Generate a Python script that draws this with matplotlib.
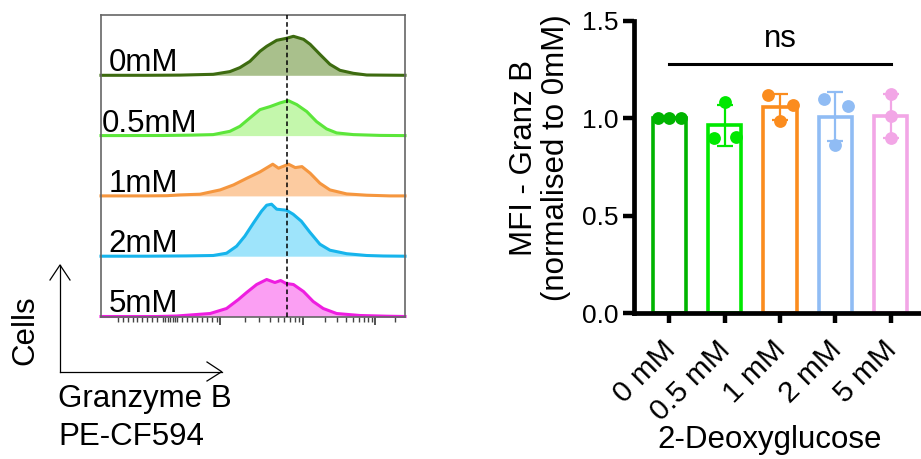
import numpy as np
import matplotlib
matplotlib.use('Agg')
import matplotlib.pyplot as plt
from matplotlib.lines import Line2D
from matplotlib.transforms import ScaledTranslation

plt.rcParams['font.family'] = ['Liberation Sans', 'DejaVu Sans']

# ---------------- Histogram data (channel units 0-1000, counts arbitrary) ----
hist_labels = ['0mM', '0.5mM', '1mM', '2mM', '5mM']
x_0mM = [0, 150, 260, 369, 424, 457, 490, 523, 545, 578, 610, 633, 666, 688, 720, 753, 786, 830, 874, 1000]
y_0mM = [0, 0, 0.2, 1, 3.7, 7.7, 14, 24, 29, 35, 37, 39, 36, 31, 21, 11, 5, 2, 0.3, 0]
x_05mM = [0, 200, 300, 369, 424, 457, 490, 523, 556, 589, 616, 644, 677, 709, 742, 775, 830, 918, 1000]
y_05mM = [0, 0.1, 0.5, 1, 4.3, 9.3, 17.7, 26, 29, 32.7, 35, 31, 24, 14, 6.7, 2.7, 1, 0.2, 0]
x_1mM = [0, 150, 217, 260, 326, 392, 436, 480, 523, 565, 584, 617, 639, 661, 688, 720, 753, 808, 874, 951, 1000]
y_1mM = [0, 0, 0.2, 1, 1.7, 6, 11, 17.7, 24, 31.7, 27.7, 31.7, 28.3, 29.3, 22.7, 12.7, 6, 2, 0.7, 0, 0]
x_2mM = [0, 150, 282, 369, 413, 446, 473, 501, 528, 545, 561, 578, 610, 632, 659, 687, 720, 753, 808, 874, 929, 1000]
y_2mM = [0, 0, 0.3, 0.7, 3, 10, 20, 33, 45, 51, 52, 47, 46, 42, 35, 24, 12, 6, 2.5, 0.7, 0.2, 0]
x_5mM = [0, 184, 249, 359, 413, 452, 479, 512, 545, 572, 591, 609, 633, 666, 698, 731, 775, 852, 940, 1000]
y_5mM = [0, 0, 0.5, 3, 8, 17, 24, 32, 37, 34, 36, 33, 32, 25, 15, 8, 3, 1, 0.3, 0]
median_ref = 613

hist_x = [x_0mM, x_05mM, x_1mM, x_2mM, x_5mM]
hist_y = [y_0mM, y_05mM, y_1mM, y_2mM, y_5mM]
hist_line = ['#3d6b10', '#5ce63a', '#f5963e', '#16b4ec', '#ee1ee0']
hist_fill = ['#a9c08c', '#c4f7ac', '#fccba0', '#9ee4fb', '#fb9ff3']

# ---------------- Bar chart data ------------------------------------------
conc_labels = ['0 mM', '0.5 mM', '1 mM', '2 mM', '5 mM']
rep_0mM = [1.0, 1.0, 1.0]
rep_05mM = [0.90, 1.085, 0.905]
rep_1mM = [1.12, 0.987, 1.07]
rep_2mM = [1.097, 0.863, 1.063]
rep_5mM = [1.124, 1.013, 0.897]
replicates = [rep_0mM, rep_05mM, rep_1mM, rep_2mM, rep_5mM]
bar_colors = ['#00b400', '#00e800', '#fb8c1e', '#90bcf4', '#f2a6e6']
jitter = [[-0.2, 0.0, 0.21], [-0.2, 0.0, 0.21], [-0.22, 0.0, 0.23],
          [-0.2, 0.0, 0.23], [0.0, 0.0, 0.0]]

W, H = 921, 459
fig = plt.figure(figsize=(W / 100, H / 100), dpi=100)


def fx(px):
    return px / W


def fy(py):
    return 1 - py / H


# ---------------- Histogram panel ----------------
lane_h = 60.3
ax1 = fig.add_axes([fx(101), fy(316.5), fx(405) - fx(101), (316.5 - 15) / H])
n = len(hist_labels)
for i in range(n):
    base = (n - 1 - i) * lane_h
    xs = np.array(hist_x[i], float)
    ys = np.array(hist_y[i], float)
    ax1.fill_between(xs, base, base + ys, color=hist_fill[i], lw=0, zorder=1)
    ax1.plot(xs, base + ys, color=hist_line[i], lw=2.2, zorder=2, clip_on=False,
             solid_joinstyle='round')
    ax1.text(0.025 if i != 1 else 0.003, base + 4, hist_labels[i], fontsize=22.5,
             ha='left', va='baseline', transform=ax1.get_yaxis_transform(), zorder=5)
ax1.axvline(median_ref, color='black', lw=1.1, ls=(0, (3, 2)), zorder=4)
ax1.set_xlim(0, 1000)
ax1.set_ylim(0, n * lane_h)
for s in ax1.spines.values():
    s.set_color('#666666')
    s.set_linewidth(1.2)
major = [391, 664, 901]
minor = []
for a, b in [(391, 664), (664, 901)]:
    for m in range(2, 10):
        minor.append(a + (b - a) * np.log10(m))
minor += list(np.arange(56, 200, 16)) + [204, 212, 220, 228, 236, 244, 250] + \
    list(np.arange(265, 385, 16.5)) + [967]
ax1.set_xticks(major)
ax1.set_xticks(minor, minor=True)
ax1.set_xticklabels([])
ax1.set_yticks([])
ax1.tick_params(axis='x', which='major', length=6, width=1.3, color='#444444')
ax1.tick_params(axis='x', which='minor', length=3.5, width=1.0, color='#444444')

# axis arrows
def fline(xs, ys):
    fig.add_artist(Line2D([fx(v) for v in xs], [fy(v) for v in ys], color='black',
                          lw=0.9, transform=fig.transFigure))

fline([60, 60], [371.7, 265])
fline([50, 60, 70], [280, 265, 280])
fline([60, 221.7], [371.7, 371.7])
fline([207, 221.7, 207], [362, 371.7, 381])
fig.text(fx(25.5), fy(330), 'Cells', rotation=90, ha='center', va='center', fontsize=22.5)
fig.text(fx(58), fy(406.7), 'Granzyme B', ha='left', va='baseline', fontsize=22.5)
fig.text(fx(58), fy(445), 'PE-CF594', ha='left', va='baseline', fontsize=22.5)

# ---------------- Bar chart panel ----------------
ax2 = fig.add_axes([fx(634), fy(313.3), 1 - fx(634), (313.3 - 20.7) / H])
xpos = np.arange(len(conc_labels))
means = [np.mean(r) for r in replicates]
sds = [np.std(r, ddof=1) for r in replicates]
ax2.bar(xpos, means, width=0.6, facecolor='white', edgecolor=bar_colors, linewidth=2.6,
        zorder=1)
for i in range(len(xpos)):
    ax2.errorbar(xpos[i], means[i], yerr=sds[i], color=bar_colors[i], capsize=6,
                 capthick=1.6, elinewidth=1.6, zorder=3, fmt='none')
    ax2.scatter(xpos[i] + np.array(jitter[i]), replicates[i], s=85,
                color=bar_colors[i], zorder=4, linewidths=0)
ax2.set_xlim(-0.638, 4.55)
ax2.set_ylim(0, 1.5)
for side in ['top', 'right']:
    ax2.spines[side].set_visible(False)
for side in ['left', 'bottom']:
    ax2.spines[side].set_linewidth(3.4)
    ax2.spines[side].set_zorder(5)
ax2.set_yticks([0, 0.5, 1.0, 1.5])
ax2.set_yticklabels(['0.0', '0.5', '1.0', '1.5'], fontsize=19)
ax2.set_xticks(xpos)
ax2.set_xticklabels([])
label_tr = ax2.get_xaxis_transform() + ScaledTranslation(-6 / 72, -16 / 72, fig.dpi_scale_trans)
for xp, lab in zip(xpos, conc_labels):
    ax2.text(xp, 0, lab, fontsize=21.5, rotation=45, ha='right', va='top',
             rotation_mode='anchor', transform=label_tr, clip_on=False)
ax2.tick_params(axis='y', length=8, width=3.2, pad=3)
ax2.tick_params(axis='x', length=7.5, width=3.2)

# ns bracket
ax2.plot([xpos[0], xpos[-1]], [1.278, 1.278], color='black', lw=2.2, clip_on=False)
ax2.text((xpos[0] + xpos[-1]) / 2, 1.33, 'ns', ha='center', va='bottom', fontsize=22.5)

fig.text(fx(540), fy(158), 'MFI - Granz B\n(normalised to 0mM)', rotation=90,
         ha='center', va='center', fontsize=22.5, linespacing=1.1, multialignment='center')
fig.text(fx(770), fy(448), '2-Deoxyglucose', ha='center', va='baseline', fontsize=22.5)

fig.savefig('out.png', dpi=100)
